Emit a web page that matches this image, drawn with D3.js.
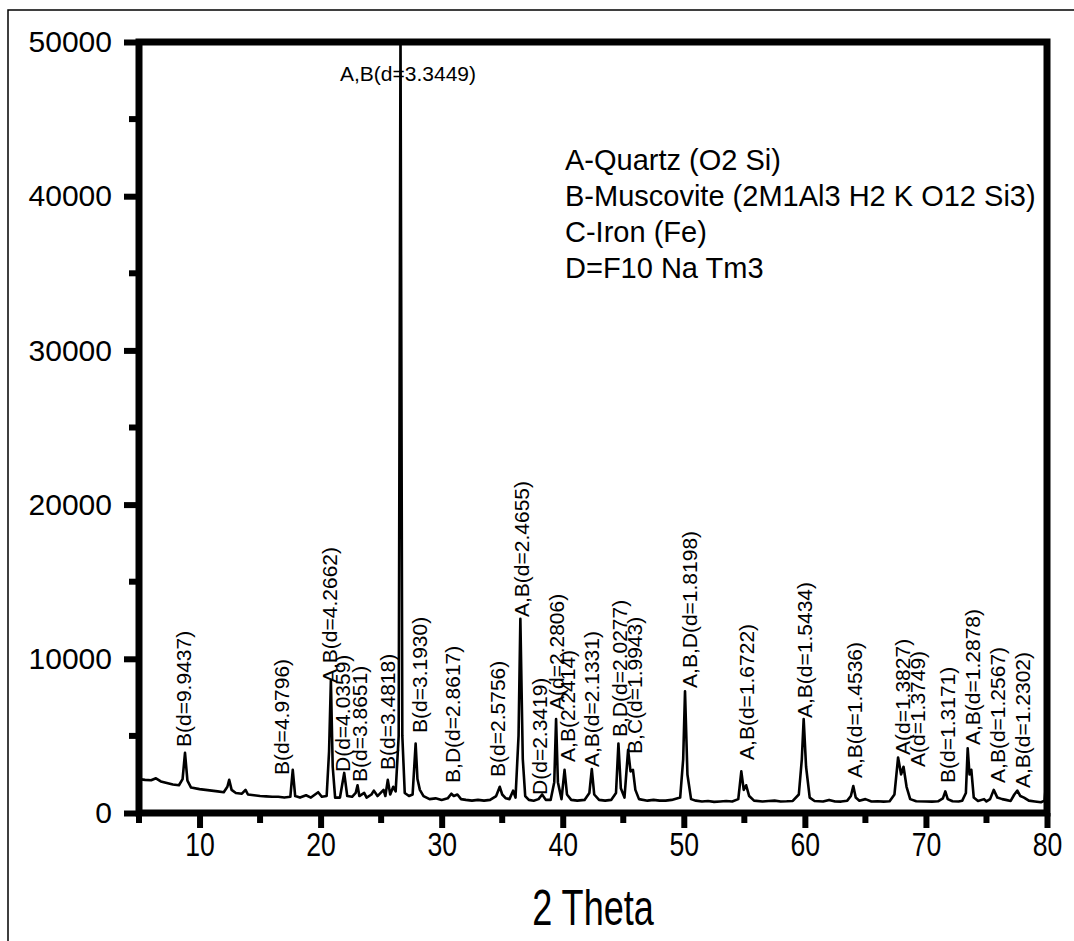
<!DOCTYPE html>
<html>
<head>
<meta charset="utf-8">
<script src="https://cdn.jsdelivr.net/npm/d3@7/dist/d3.min.js"></script>
<style>
  body { margin: 0; background: #fff; }
  svg { display: block; font-family: "Liberation Sans", Arial, sans-serif; }
</style>
</head>
<body>
<div id="chart"></div>
<script>
// 2 theta positions of the scan
var twoTheta = [5.0, 5.5, 6.0, 6.4, 6.8, 7.3, 7.8, 8.3, 8.6, 8.8, 9.0, 9.3, 10.0, 10.5, 11.0, 11.5, 12.0, 12.3, 12.45, 12.65,
  13.0, 13.5, 13.8, 14.0, 14.5, 15.0, 15.5, 16.0, 16.5, 17.0, 17.5, 17.7, 17.9, 18.3, 18.8, 19.2, 19.8, 20.1, 20.5, 20.7,
  20.85, 21.0, 21.2, 21.6, 21.95, 22.2, 22.6, 22.9, 23.05, 23.2, 23.6, 23.8, 24.2, 24.4, 24.7, 25.2, 25.35, 25.55, 25.75, 26.0,
  26.2, 26.45, 26.6, 26.75, 26.95, 27.3, 27.6, 27.85, 28.0, 28.2, 28.5, 29.0, 29.5, 30.0, 30.5, 30.8, 31.0, 31.3, 31.6, 32.0,
  32.5, 33.0, 33.5, 34.0, 34.5, 34.8, 35.0, 35.3, 35.6, 35.9, 36.1, 36.35, 36.5, 36.7, 36.9, 37.2, 37.6, 38.0, 38.3, 38.6,
  39.0, 39.3, 39.45, 39.6, 39.9, 40.15, 40.35, 40.7, 41.2, 41.8, 42.2, 42.4, 42.6, 43.0, 43.5, 44.0, 44.4, 44.6, 44.8, 45.1,
  45.4, 45.6, 45.8, 46.0, 46.3, 47.0, 47.5, 48.0, 48.5, 49.0, 49.7, 49.95, 50.1, 50.3, 50.6, 51.0, 51.5, 52.0, 52.5, 53.0,
  53.5, 54.0, 54.5, 54.75, 54.95, 55.15, 55.4, 55.8, 56.5, 57.0, 57.5, 58.0, 58.5, 59.0, 59.5, 59.75, 59.9, 60.1, 60.4, 60.8,
  61.5, 62.0, 62.5, 63.0, 63.5, 63.8, 64.0, 64.2, 64.5, 65.0, 65.5, 66.0, 66.5, 67.0, 67.4, 67.7, 67.95, 68.15, 68.4, 68.7,
  69.2, 70.0, 70.5, 71.0, 71.4, 71.6, 71.8, 72.2, 72.7, 73.0, 73.3, 73.45, 73.6, 73.75, 73.95, 74.3, 74.8, 75.0, 75.3, 75.6,
  75.9, 76.3, 76.6, 77.0, 77.3, 77.55, 77.8, 78.1, 78.5, 79.0, 79.5, 79.8, 79.95, 80.0];

// intensity (counts) at each 2 theta
var counts = [2200, 2150, 2120, 2250, 2050, 1950, 1850, 1800, 2200, 3900, 2100, 1650, 1550, 1500, 1450, 1400, 1350, 1700, 2150, 1500,
  1300, 1250, 1500, 1200, 1150, 1100, 1080, 1050, 1050, 1000, 1050, 2800, 1100, 1000, 1150, 1000, 1350, 1050, 1100, 4000,
  8600, 3000, 1000, 1000, 2600, 1100, 1050, 1300, 1800, 1100, 1300, 1000, 1200, 1450, 1100, 1500, 1100, 2150, 1200, 1700,
  1400, 5000, 50800, 5000, 1300, 1100, 1200, 4500, 2200, 1500, 1100, 900, 950, 850, 950, 1250, 1100, 1200, 900, 850,
  800, 850, 800, 850, 1100, 1700, 1200, 950, 900, 1450, 1000, 5000, 12600, 3500, 1100, 850, 800, 900, 1200, 850,
  850, 2000, 6100, 2000, 900, 2800, 1200, 850, 800, 850, 1300, 2850, 1200, 850, 800, 850, 1300, 4500, 1600, 1000,
  4100, 2700, 2800, 1500, 900, 800, 850, 800, 800, 850, 1000, 3500, 7900, 2500, 900, 800, 750, 780, 720, 750,
  780, 750, 900, 2700, 1500, 1800, 1100, 800, 750, 780, 800, 750, 760, 780, 1200, 3500, 6100, 3000, 1000, 780,
  750, 850, 750, 740, 800, 1100, 1750, 1000, 800, 900, 750, 760, 740, 760, 1200, 3600, 2500, 3000, 1700, 900,
  760, 750, 740, 760, 950, 1400, 900, 760, 750, 800, 1300, 4200, 2500, 2800, 1000, 780, 900, 750, 900, 1500,
  1000, 900, 850, 780, 1200, 1450, 1100, 1000, 800, 750, 700, 800, 2200, 2400];

// peak labels: text, 2 theta and intensity where the (vertical) text starts
var peakText = ["B(d=9.9437)", "B(d=4.9796)", "A,B(d=4.2662)", "D(d=4.0359)", "B(d=3.8651)", "B(d=3.4818)",
  "B(d=3.1930)", "B,D(d=2.8617)", "B(d=2.5756)", "A,B(d=2.4655)", "D(d=2.3419)", "A(d=2.2806)", "A,B(2.2414)",
  "A,B(d=2.1331)", "B,D(d=2.0277)", "B,C(d=1.9943)", "A,B,D(d=1.8198)", "A,B(d=1.6722)", "A,B(d=1.5434)",
  "A,B(d=1.4536)", "A(d=1.3827)", "A(d=1.3749)", "B(d=1.3171)", "A,B(d=1.2878)", "A,B(d=1.2567)", "A,B(d=1.2302)"];
var peakTheta = [8.72, 16.81, 20.78, 21.85, 23.25, 25.57, 28.21, 30.94, 34.65, 36.63, 38.12, 39.53, 40.43,
  42.42, 44.73, 45.97, 50.51, 55.22, 60.01, 64.14, 68.10, 69.34, 71.82, 73.89, 75.95, 78.02];
var peakY = [4280, 2460, 8430, 2660, 2010, 2790, 5190, 1950, 2340, 12710, 1170, 6680, 3310,
  2980, 4930, 3830, 8110, 3440, 6160, 2270, 3760, 2980, 1950, 4410, 1950, 1620];

// the main quartz peak is labelled horizontally at the top
var topText = "A,B(d=3.3449)", topTheta = 27.22, topY = 47500;

var legendLines = ["A-Quartz (O2 Si)", "B-Muscovite (2M1Al3 H2 K O12 Si3)", "C-Iron (Fe)", "D=F10 Na Tm3"];

var xTicks = [10, 20, 30, 40, 50, 60, 70, 80];
var yTicks = [0, 10000, 20000, 30000, 40000, 50000];

function drawChart() {
  var W = 1074, H = 941;
  var margin = {top: 42, right: 27, bottom: 128, left: 139},
      width = W - margin.left - margin.right,
      height = H - margin.top - margin.bottom;

  var x = d3.scaleLinear().domain([5, 80]).range([0, width]);
  var y = d3.scaleLinear().domain([0, 50000]).range([height, 0]);

  var svg = d3.select("#chart").append("svg")
      .attr("width", W)
      .attr("height", H);

  // thin frame of the picture (top and left only)
  svg.append("path")
      .attr("d", "M8,941V10H1074")
      .attr("fill", "none")
      .attr("stroke", "#000")
      .attr("stroke-width", 1.5);

  var g = svg.append("g")
      .attr("transform", "translate(" + margin.left + "," + margin.top + ")");

  g.append("clipPath").attr("id", "clip")
    .append("rect").attr("width", width).attr("height", height);

  var line = d3.line()
      .x(function(d, i) { return x(twoTheta[i]); })
      .y(function(d) { return y(d); });

  g.append("path")
      .datum(counts)
      .attr("clip-path", "url(#clip)")
      .attr("fill", "none")
      .attr("stroke", "#000")
      .attr("stroke-width", 2.6)
      .attr("stroke-linejoin", "round")
      .attr("d", line);

  // minor ticks
  var minorX = d3.range(5, 80.1, 5).filter(function(v) { return v % 10 !== 0; });
  var minorY = [5000, 15000, 25000, 35000, 45000];
  g.append("g").selectAll("line").data(minorX).enter().append("line")
      .attr("x1", function(d) { return x(d); }).attr("x2", function(d) { return x(d); })
      .attr("y1", height).attr("y2", height + 10)
      .attr("stroke", "#000").attr("stroke-width", 6);
  g.append("g").selectAll("line").data(minorY).enter().append("line")
      .attr("y1", function(d) { return y(d); }).attr("y2", function(d) { return y(d); })
      .attr("x1", 0).attr("x2", -10)
      .attr("stroke", "#000").attr("stroke-width", 6);

  // x axis
  var xAxis = g.append("g")
      .attr("transform", "translate(0," + height + ")")
      .call(d3.axisBottom(x).tickValues(xTicks).tickSize(15).tickPadding(5).tickSizeOuter(0));
  xAxis.selectAll("text")
      .attr("font-size", 28).attr("fill", "#000")
      .attr("dy", null)
      .attr("y", 0)
      .attr("transform", "translate(0,43) scale(0.95,1.2)");

  // y axis
  var yAxis = g.append("g")
      .call(d3.axisLeft(y).tickValues(yTicks).tickSize(15).tickPadding(12).tickSizeOuter(0)
        .tickFormat(d3.format("d")));
  yAxis.selectAll("text").attr("font-size", 30).attr("fill", "#000");

  svg.selectAll(".domain").remove();
  g.selectAll(".tick line").attr("stroke", "#000").attr("stroke-width", 6);

  // frame
  g.append("rect")
      .attr("width", width).attr("height", height)
      .attr("fill", "none")
      .attr("stroke", "#000")
      .attr("stroke-width", 7);

  // peak labels
  g.append("g").selectAll("text").data(peakText).enter().append("text")
      .attr("transform", function(d, i) {
        return "translate(" + x(peakTheta[i]) + "," + y(peakY[i]) + ") rotate(-90)";
      })
      .attr("dy", "0.35em")
      .attr("font-size", 21)
      .text(function(d) { return d; });

  g.append("text")
      .attr("x", x(topTheta)).attr("y", y(topY))
      .attr("text-anchor", "middle")
      .attr("font-size", 21)
      .text(topText);

  // legend of phases
  g.append("g").selectAll("text").data(legendLines).enter().append("text")
      .attr("x", 426)
      .attr("y", function(d, i) { return 128 + i * 36; })
      .attr("font-size", 29)
      .text(function(d) { return d; });

  // axis title
  svg.append("text")
      .attr("transform", "translate(593,925) scale(0.95,1.3)")
      .attr("text-anchor", "middle")
      .attr("font-size", 38)
      .text("2 Theta");
} // end drawChart

drawChart();
</script>
</body>
</html>
